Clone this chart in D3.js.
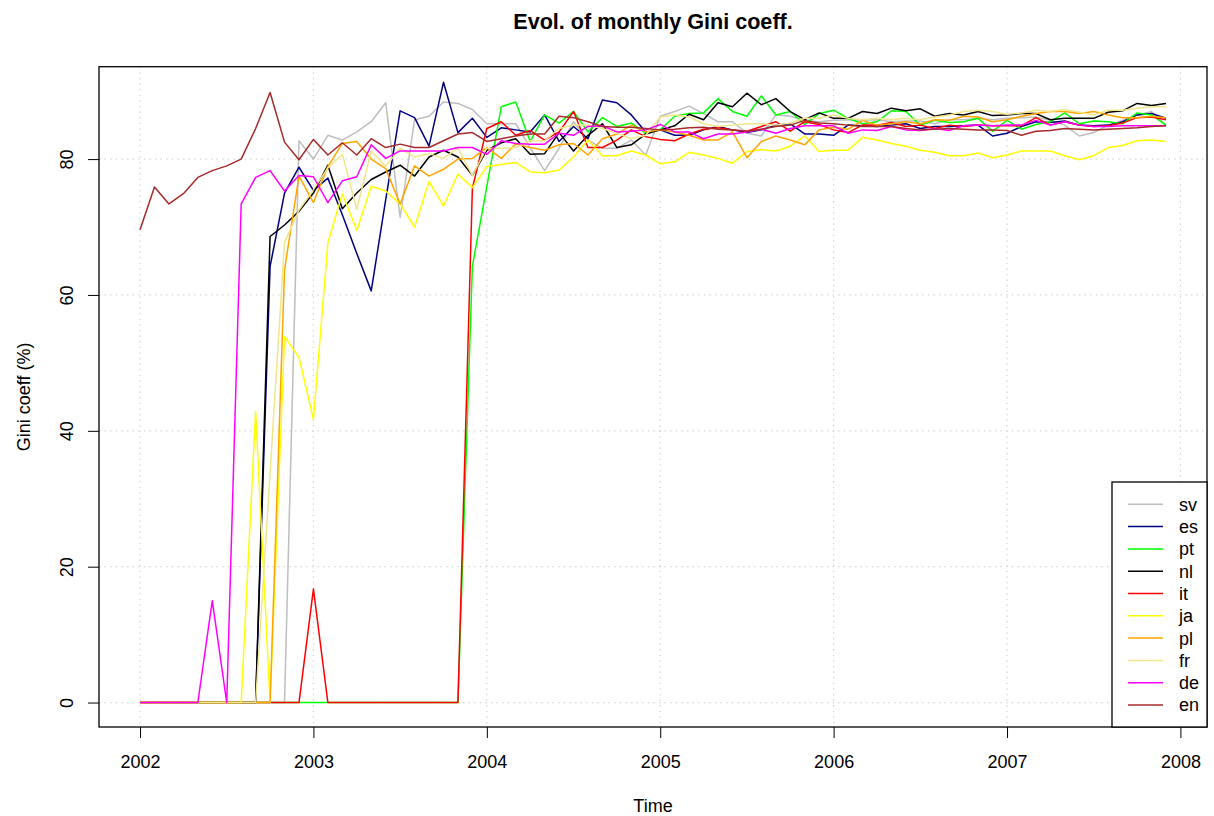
<!DOCTYPE html>
<html>
<head>
<meta charset="utf-8">
<script src="https://cdn.jsdelivr.net/npm/d3@7"></script>
<style>
    body { margin: 0; background: #fff; }
    svg text { font-family: "Liberation Sans", Arial, Helvetica, sans-serif; fill: #000; }
</style>
</head>
<body>
<svg id="vis-gini" width="1214" height="816"></svg>
<script>

// monthly series, Jan 2002 .. Dec 2007 (72 months each)
const langs  = ['sv', 'es', 'pt', 'nl', 'it', 'ja', 'pl', 'fr', 'de', 'en'];
const colors = ['#BEBEBE', '#000080', '#00FF00', '#000000', '#FF0000',
                '#FFFF00', '#FFA500', '#F0E68C', '#FF00FF', '#A52A2A'];

const start_year = 2002;
const x_ticks = [2002, 2003, 2004, 2005, 2006, 2007, 2008];
const y_ticks = [0, 20, 40, 60, 80];
const y_lim   = [0, 90];

const sv = [0,0,0,0,0,0,0,0,0,0,0,
    82.7,80.0,83.5,82.8,84.0,85.5,88.3,71.4,85.8,86.3,88.4,88.2,87.3,85.2,85.2,
    85.2,81.7,78.3,81.6,85.5,82.8,81.6,81.6,82.8,80.6,86.3,87.0,87.8,86.7,85.5,85.5,83.8,83.4,86.5,86.3,85.7,85.5,
    85.7,85.8,85.7,85.8,85.5,85.6,85.6,85.2,85.8,85.8,86.0,85.8,86.0,86.1,86.2,85.7,85.0,83.4,83.9,85.0,85.7,86.5,87.0,85.0];

const es = [0,0,0,0,0,0,0,0,0,
    64.2,75.0,78.8,75.4,77.2,71.8,66.1,60.6,74.0,87.1,86.1,81.9,91.3,83.9,86.0,83.2,84.6,
    84.3,84.0,86.5,82.6,84.8,83.0,88.7,88.3,86.5,84.0,84.3,83.5,83.5,84.3,84.8,84.3,83.9,84.3,85.0,85.2,83.7,83.7,
    83.5,85.0,84.9,84.8,85.0,85.2,84.5,84.8,84.8,84.9,85.0,83.4,83.8,84.8,85.5,85.4,85.6,85.0,84.9,85.0,85.5,86.5,86.7,86.0];

const pt = [0,0,0,0,0,0,0,0,0,0,0,0,0,0,0,0,0,0,0,0,0,0,0,
    64.2,76.0,87.7,88.4,82.6,86.5,85.3,87.0,84.0,86.1,84.8,85.3,83.8,84.3,86.3,86.7,86.8,88.9,87.0,86.3,89.3,86.5,87.0,85.1,86.7,
    87.2,86.0,85.2,85.5,87.1,87.0,85.0,85.7,85.4,85.5,86.0,84.1,85.7,84.4,85.1,85.5,86.8,85.2,85.6,85.5,85.2,86.8,86.5,85.0];

const nl = [0,0,0,0,0,0,0,0,0,
    68.6,70.3,72.3,75.0,79.1,72.7,75.0,77.0,78.1,79.1,77.5,80.3,81.3,80.3,77.6,81.3,82.4,
    83.0,80.7,80.8,83.9,81.2,83.5,85.2,81.7,82.1,83.7,84.3,84.9,86.6,85.8,88.3,87.7,89.7,88.0,88.9,87.0,85.8,86.8,
    86.0,86.0,87.0,86.7,87.5,87.1,87.4,86.3,86.7,86.5,87.0,86.4,86.5,86.7,86.7,85.8,86.0,86.0,86.0,86.9,87.1,88.2,87.9,88.2];

const it = [0,0,0,0,0,0,0,0,0,0,0,0,16.7,0,0,0,0,0,0,0,0,0,0,
    75.7,84.5,85.5,83.5,84.2,82.8,84.0,87.0,81.7,81.7,82.8,84.3,83.3,82.9,82.7,83.7,84.4,84.6,84.3,84.1,84.8,85.5,84.1,85.5,85.1,
    84.3,83.9,85.0,85.0,85.4,84.8,85.0,84.5,85.0,84.8,85.0,84.9,84.9,84.9,86.1,85.0,85.5,85.0,84.8,84.9,85.3,86.1,86.2,85.8];

const ja = [0,0,0,0,0,0,0,0,42.8,0,
    53.9,50.8,41.7,67.7,74.9,69.5,76.0,75.3,73.4,70.0,76.7,73.1,77.8,75.8,78.9,79.2,
    79.5,78.1,78.0,78.4,80.3,82.8,80.5,80.5,81.2,80.6,79.3,79.6,81.0,80.6,80.1,79.4,81.1,81.4,81.2,81.9,83.4,81.1,
    81.3,81.3,83.2,82.8,82.3,81.9,81.3,81.0,80.5,80.5,80.9,80.2,80.6,81.2,81.2,81.2,80.5,79.9,80.5,81.7,82.0,82.7,82.8,82.6];

const pl = [0,0,0,0,0,0,0,0,0,0,
    63.7,77.5,73.6,78.9,82.3,82.6,80.0,78.6,73.4,79.0,77.5,78.5,80.0,80.1,81.7,80.1,
    82.2,81.7,81.3,82.1,82.3,80.6,83.0,83.7,85.0,84.0,84.3,84.0,83.5,82.8,82.8,84.0,80.2,82.6,83.4,82.8,82.1,84.3,
    84.7,84.4,85.7,85.0,85.2,85.5,85.2,85.8,85.7,86.3,86.2,85.5,85.8,86.3,86.7,87.0,87.0,86.7,87.0,86.5,86.1,86.1,86.3,86.1];

const fr = [0,0,0,0,0,0,0,0,0,
    33.8,67.7,72.5,75.5,78.7,80.7,72.6,81.2,78.9,81.6,80.3,80.8,80.1,81.6,77.6,81.6,81.6,
    81.7,82.7,82.7,84.5,85.0,85.0,84.5,83.8,83.0,83.5,86.2,86.5,86.2,85.2,84.8,85.0,85.2,85.2,85.0,85.3,86.0,86.0,
    86.5,86.0,85.8,86.0,85.8,86.0,85.8,86.2,86.5,87.0,87.2,87.0,86.6,86.8,87.2,87.0,87.3,86.9,86.5,87.2,87.2,87.5,87.7,87.7];

const de = [0,0,0,0,0,15.0,0,
    73.4,77.3,78.3,75.3,77.6,77.4,73.6,76.8,77.4,82.1,80.1,81.2,81.2,81.2,81.2,81.7,81.7,80.7,82.7,
    82.3,82.2,82.2,83.8,83.5,84.8,84.9,84.0,84.1,84.3,85.1,84.0,84.0,83.0,83.7,83.7,84.0,84.4,83.8,84.5,84.9,84.9,
    84.9,83.8,84.3,84.2,84.8,84.3,84.2,84.5,84.2,84.9,85.0,84.9,85.0,85.0,85.7,85.0,85.5,85.0,84.8,84.8,84.9,84.9,84.9,84.9];

const en = [69.6,75.9,73.4,74.9,77.3,78.3,79.0,80.0,84.5,89.8,82.5,79.9,82.9,80.6,82.4,80.6,83.0,81.7,82.2,81.7,81.7,82.7,83.7,83.9,82.6,83.0,
    83.4,83.7,83.7,86.3,86.1,85.5,84.8,84.7,84.7,84.5,84.3,84.4,84.6,84.7,84.4,84.3,84.1,84.4,84.8,85.0,85.7,85.3,
    85.2,85.0,84.8,84.8,84.8,84.5,84.3,84.4,84.5,84.4,84.3,84.3,84.2,83.5,84.1,84.2,84.5,84.4,84.3,84.4,84.5,84.6,84.8,84.9];

const series_values = [sv, es, pt, nl, it, ja, pl, fr, de, en];

const gini = {

    dims : {
        width : 1214,
        height : 816,
        margin : { top: 66.7, right: 7, bottom: 89, left: 99 },
        font : 18
    },

    scales : {

        // R style: data range widened by 4% on each side
        x : () => {
            let m = gini.dims.margin;
            let t0 = start_year, t1 = start_year + (sv.length - 1) / 12;
            let pad = (t1 - t0) * 0.04;
            return d3.scaleLinear()
                .domain([t0 - pad, t1 + pad])
                .range([m.left, gini.dims.width - m.right]);
        },

        y : () => {
            let m = gini.dims.margin;
            let pad = (y_lim[1] - y_lim[0]) * 0.04;
            return d3.scaleLinear()
                .domain([y_lim[0] - pad, y_lim[1] + pad])
                .range([gini.dims.height - m.bottom, m.top]);
        }

    },

    render : {

        grid : function(svg, x, y) {

            let m = gini.dims.margin;
            let g = svg.append("g")
                .attr("stroke", "#D3D3D3")
                .attr("stroke-width", 1.2)
                .attr("stroke-dasharray", "1.4,4.2");

            g.selectAll("line.v")
                .data(x_ticks)
                .join("line")
                .attr("class", "v")
                .attr("x1", d => x(d)).attr("x2", d => x(d))
                .attr("y1", m.top).attr("y2", gini.dims.height - m.bottom);

            g.selectAll("line.h")
                .data(y_ticks)
                .join("line")
                .attr("class", "h")
                .attr("y1", d => y(d)).attr("y2", d => y(d))
                .attr("x1", m.left).attr("x2", gini.dims.width - m.right);
        },

        lines : function(svg, x, y) {

            let line = d3.line()
                .x((d, i) => x(start_year + i / 12))
                .y(d => y(d));

            svg.append("g")
                .attr("fill", "none")
                .attr("stroke-width", 1.5)
                .attr("stroke-linejoin", "round")
                .selectAll("path")
                .data(series_values)
                .join("path")
                .attr("stroke", (d, i) => colors[i])
                .attr("d", line);
        },

        axes : function(svg, x, y) {

            let m = gini.dims.margin;
            let fs = gini.dims.font;
            let bottom = gini.dims.height - m.bottom;

            let ax = svg.append("g")
                .attr("transform", `translate(0,${bottom})`)
                .call(d3.axisBottom(x).tickValues(x_ticks).tickFormat(d3.format("d"))
                    .tickSize(11).tickSizeOuter(0).tickPadding(17.7));
            ax.select(".domain").remove();
            ax.selectAll("text").attr("font-size", fs).attr("font-family", null);

            let ay = svg.append("g")
                .attr("transform", `translate(${m.left},0)`)
                .call(d3.axisLeft(y).tickValues(y_ticks).tickSize(11).tickSizeOuter(0));
            ay.select(".domain").remove();
            ay.selectAll("text")
                .attr("font-size", fs)
                .attr("font-family", null)
                .attr("x", null).attr("dy", null)
                .attr("text-anchor", "middle")
                .attr("transform", "translate(-26.3,0) rotate(-90)");

            svg.selectAll(".tick line").attr("stroke", "#000");

            // frame
            svg.append("rect")
                .attr("x", m.left).attr("y", m.top)
                .attr("width", gini.dims.width - m.left - m.right)
                .attr("height", bottom - m.top)
                .attr("fill", "none")
                .attr("stroke", "#000")
                .attr("stroke-width", 1.3);
        },

        labels : function(svg) {

            let m = gini.dims.margin;
            let fs = gini.dims.font;
            let cx = (m.left + gini.dims.width - m.right) / 2;
            let cy = (m.top + gini.dims.height - m.bottom) / 2;

            svg.append("text")
                .attr("x", cx).attr("y", 29)
                .attr("text-anchor", "middle")
                .attr("font-weight", "bold")
                .attr("font-size", fs * 1.2)
                .text("Evol. of monthly Gini coeff.");

            svg.append("text")
                .attr("x", cx).attr("y", 811.5)
                .attr("text-anchor", "middle")
                .attr("font-size", fs)
                .text("Time");

            svg.append("text")
                .attr("transform", `translate(29.5,${cy}) rotate(-90)`)
                .attr("text-anchor", "middle")
                .attr("font-size", fs)
                .text("Gini coeff (%)");
        },

        legend : function(svg) {

            let m = gini.dims.margin;
            let right = gini.dims.width - m.right;
            let bottom = gini.dims.height - m.bottom;
            let w = 95, h = 245, row = 22.3;

            let g = svg.append("g")
                .attr("transform", `translate(${right - w},${bottom - h})`);

            g.append("rect")
                .attr("width", w).attr("height", h)
                .attr("fill", "#fff")
                .attr("stroke", "#000")
                .attr("stroke-width", 1.3);

            let items = g.selectAll("g.item")
                .data(langs)
                .join("g")
                .attr("class", "item")
                .attr("transform", (d, i) => `translate(0,${22.3 + i * row})`);

            items.append("line")
                .attr("x1", 16).attr("x2", 51)
                .attr("stroke", (d, i) => colors[i])
                .attr("stroke-width", 1.5);

            items.append("text")
                .attr("x", 67)
                .attr("dy", "0.36em")
                .attr("font-size", gini.dims.font)
                .text(d => d);
        }

    },

    ctrl : {

        init : function() {

            let svg = d3.select("svg#vis-gini");
            let x = gini.scales.x();
            let y = gini.scales.y();

            gini.render.grid(svg, x, y);
            gini.render.lines(svg, x, y);
            gini.render.axes(svg, x, y);
            gini.render.labels(svg);
            gini.render.legend(svg);

        }

    }

};

gini.ctrl.init();
</script>
</body>
</html>
